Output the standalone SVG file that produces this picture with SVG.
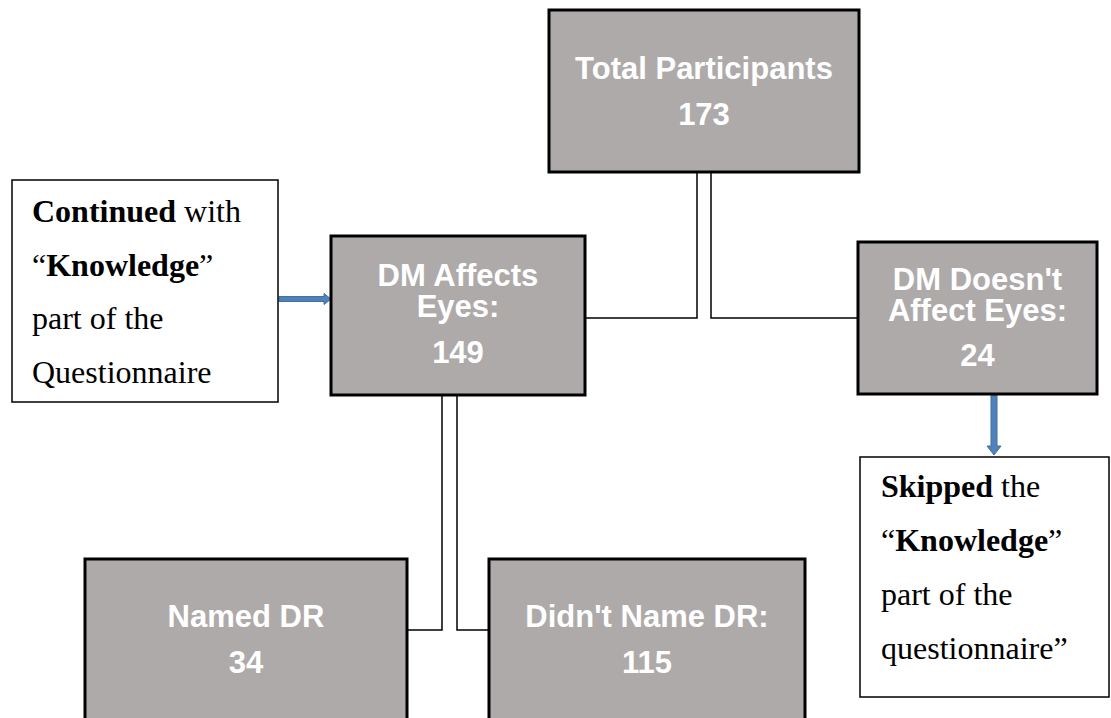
<svg xmlns="http://www.w3.org/2000/svg" width="1111" height="718" viewBox="0 0 1111 718">
<style>
.box{fill:#AEAAAA;stroke:#000;stroke-width:3}
.note{fill:#fff;stroke:#000;stroke-width:1.5}
.bt{font-family:"Liberation Sans",Arial,sans-serif;font-weight:bold;font-size:31px;fill:#fff;text-anchor:middle}
.nt{font-family:"Liberation Serif","Times New Roman",serif;font-size:32px;fill:#000}
.conn{fill:none;stroke:#000;stroke-width:1.5}
.arr{fill:#4F81BD;stroke:#41719C;stroke-width:1}
</style>
<rect width="1111" height="718" fill="#fff"/>
<g id="connectors">
<polyline class="conn" points="697,172 697,318 585,318"/>
<polyline class="conn" points="711,172 711,318 858,318"/>
<polyline class="conn" points="442,395 442,630 407,630"/>
<polyline class="conn" points="457,395 457,630 489,630"/>
<path class="arr" d="M279,296.5 L324,296.5 L324,293.5 L331,299 L324,304.5 L324,301.5 L279,301.5 Z"/>
<path class="arr" d="M991,395 L997,395 L997,446 L1001,446 L994,455 L987,446 L991,446 Z"/>
</g>
<g id="total">
<rect class="box" x="549" y="10" width="310" height="162"/>
<text class="bt" x="704" y="79">Total Participants</text>
<text class="bt" x="704" y="125">173</text>
</g>
<g id="affects">
<rect class="box" x="331" y="236" width="254" height="159"/>
<text class="bt" x="458" y="286">DM Affects</text>
<text class="bt" x="458" y="317">Eyes:</text>
<text class="bt" x="458" y="363">149</text>
</g>
<g id="doesnt">
<rect class="box" x="858" y="242" width="239" height="152"/>
<text class="bt" x="977.5" y="290">DM Doesn't</text>
<text class="bt" x="977.5" y="321">Affect Eyes:</text>
<text class="bt" x="977.5" y="366">24</text>
</g>
<g id="continued">
<rect class="note" x="12" y="180" width="266" height="222"/>
<text class="nt" x="32" y="222"><tspan font-weight="bold">Continued</tspan> with</text>
<text class="nt" x="32" y="276">“<tspan font-weight="bold">Knowledge</tspan>”</text>
<text class="nt" x="32" y="329">part of the</text>
<text class="nt" x="32" y="383">Questionnaire</text>
</g>
<g id="skipped">
<rect class="note" x="860" y="457" width="249" height="240"/>
<text class="nt" x="881" y="497"><tspan font-weight="bold">Skipped</tspan> the</text>
<text class="nt" x="881" y="551">“<tspan font-weight="bold">Knowledge</tspan>”</text>
<text class="nt" x="881" y="605">part of the</text>
<text class="nt" x="881" y="659">questionnaire”</text>
</g>
<g id="named">
<rect class="box" x="85" y="559" width="322" height="162"/>
<text class="bt" x="246" y="627">Named DR</text>
<text class="bt" x="246" y="673">34</text>
</g>
<g id="notnamed">
<rect class="box" x="489" y="559" width="316" height="162"/>
<text class="bt" x="647" y="627">Didn't Name DR:</text>
<text class="bt" x="647" y="673">115</text>
</g>
</svg>
